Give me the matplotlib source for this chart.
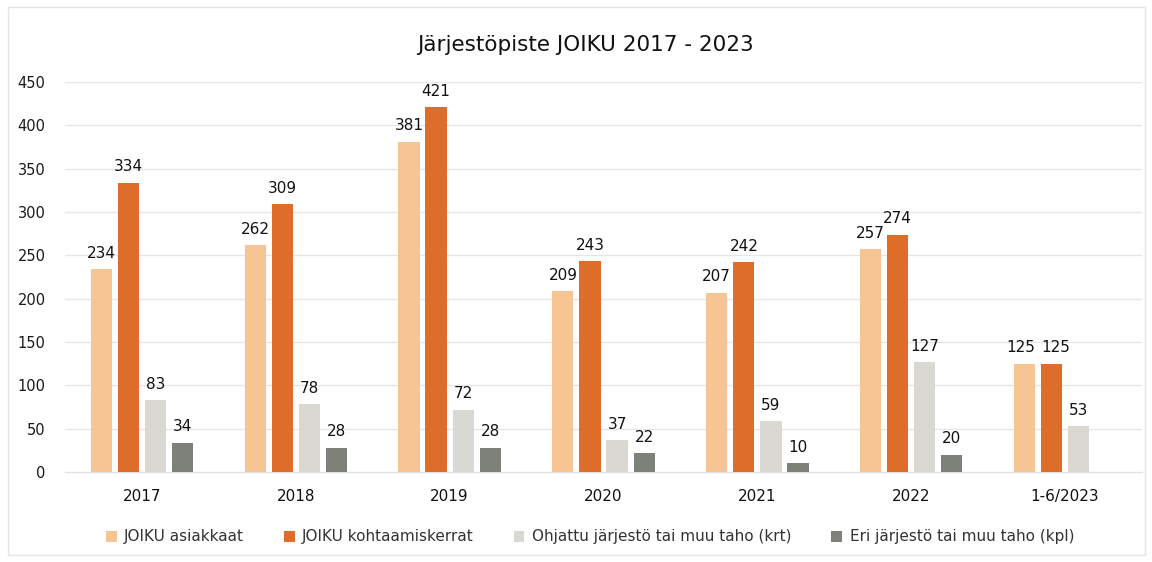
import matplotlib
matplotlib.use("Agg")
import matplotlib.pyplot as plt
import numpy as np
from matplotlib.patches import Rectangle

categories = ["2017", "2018", "2019", "2020", "2021", "2022", "1-6/2023"]
series_names = ["JOIKU asiakkaat", "JOIKU kohtaamiskerrat",
                "Ohjattu järjestö tai muu taho (krt)", "Eri järjestö tai muu taho (kpl)"]
asiakkaat = [234, 262, 381, 209, 207, 257, 125]
kohtaamiskerrat = [334, 309, 421, 243, 242, 274, 125]
ohjattu = [83, 78, 72, 37, 59, 127, 53]
eri = [34, 28, 28, 22, 10, 20, None]
yticks = [0, 50, 100, 150, 200, 250, 300, 350, 400, 450]

colors = ["#F7C494", "#DF6D2A", "#D9D8D3", "#7E8179"]
title = "Järjestöpiste JOIKU 2017 - 2023"

plt.rcParams['font.family'] = ['DejaVu Sans']

fig = plt.figure(figsize=(11.52, 5.62), dpi=100)
ax = fig.add_axes([65/1152, 1 - 472/562, (1142-65)/1152, (472-82)/562])

x = np.arange(len(categories))
pitch = 0.176
width = 0.138
all_series = [asiakkaat, kohtaamiskerrat, ohjattu, eri]
handles = []
for i, (vals, col, name) in enumerate(zip(all_series, colors, series_names)):
    off = (i - 1.5) * pitch
    idx = [k for k, v in enumerate(vals) if v is not None]
    xs = [x[k] + off for k in idx]
    vs = [vals[k] for k in idx]
    bars = ax.bar(xs, vs, width=width, color=col, label=name, zorder=3)
    handles.append(bars)
    for k, b, v in zip(idx, bars, vs):
        dx = 0
        # separate labels of equal-height neighbouring bars
        if i == 0 and kohtaamiskerrat[k] == v:
            dx = -3
        if i == 1 and asiakkaat[k] == v:
            dx = 3
        ax.annotate(str(v), (b.get_x() + b.get_width()/2, v), xytext=(dx, 6),
                    textcoords="offset points", ha="center", va="bottom",
                    fontsize=11, color="#111111")

ax.set_xlim(-0.5, len(categories) - 0.5)
ax.set_ylim(0, 450)
ax.set_yticks(yticks)
ax.set_yticklabels([str(t) for t in yticks], fontsize=10.5, color="#1a1a1a")
ax.set_xticks(x)
ax.set_xticklabels(categories, fontsize=11, color="#111111")
ax.tick_params(axis="both", length=0)
ax.tick_params(axis="y", pad=14)
ax.tick_params(axis="x", pad=12)
ax.grid(axis="y", color="#E6E6E6", linewidth=1, zorder=0)
for s in ["top", "right", "left"]:
    ax.spines[s].set_visible(False)
ax.spines["bottom"].set_color("#E0E0E0")

fig.text(585/1152, 1 - 45/562, title, ha="center", va="center", fontsize=15.5, color="#111111")

leg = fig.legend(handles=handles, labels=series_names, loc="center",
                 bbox_to_anchor=(590/1152, 1 - 537/562), ncol=4, frameon=False,
                 fontsize=11, handlelength=0.7, handleheight=0.7, handletextpad=0.5,
                 columnspacing=2.6, labelcolor="#333333")

fig.patches.append(Rectangle((8/1152, 7/562), 1137/1152, 548/562, transform=fig.transFigure,
                             fill=False, edgecolor="#E4E4E4", linewidth=1))

fig.savefig("out.png", dpi=100)
